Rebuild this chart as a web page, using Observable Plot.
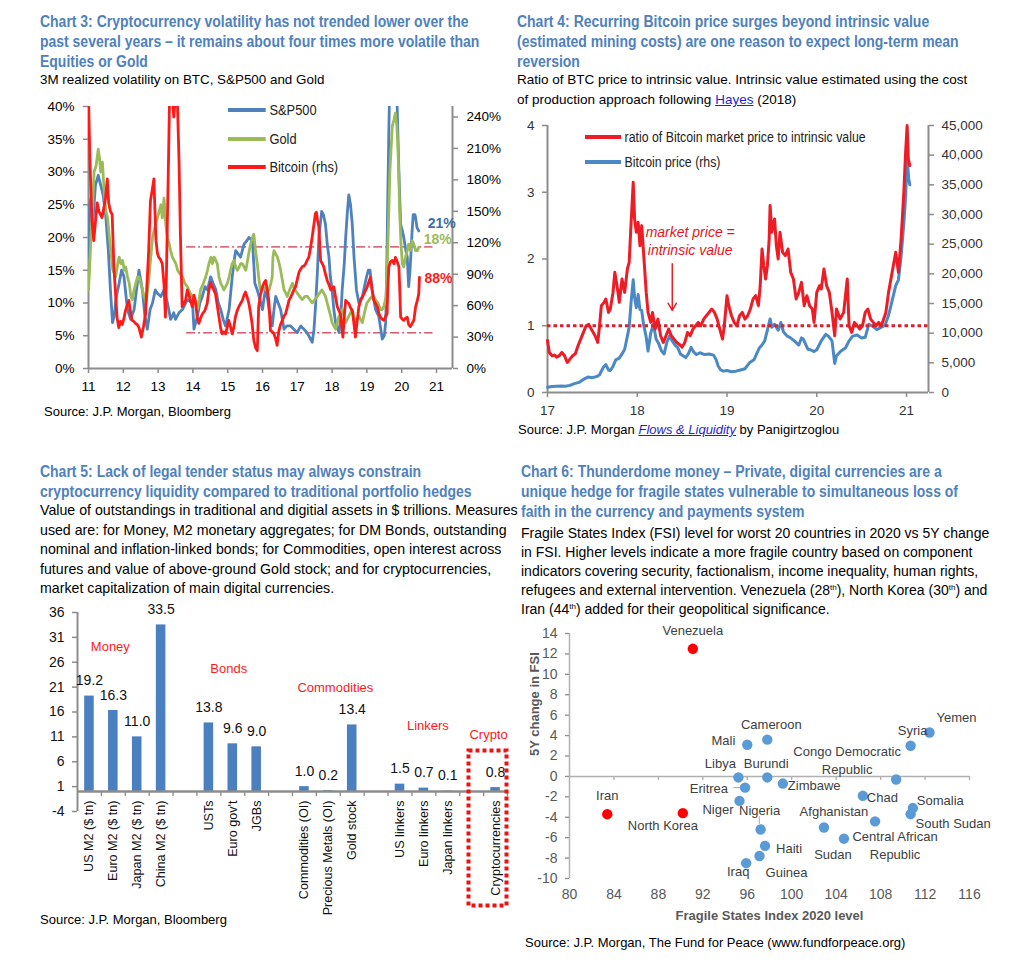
<!DOCTYPE html>
<html><head><meta charset="utf-8">
<script src="https://cdn.jsdelivr.net/npm/d3@7"></script>
<script src="https://cdn.jsdelivr.net/npm/@observablehq/plot@0.6"></script>
<style>
body{margin:0;background:#fff;}
#page{position:relative;width:1023px;height:966px;overflow:hidden;font-family:"Liberation Sans",Arial,sans-serif;background:#fff;}
.abs{position:absolute;white-space:nowrap;}
.title{font-family:"Liberation Sans",Arial,sans-serif;font-weight:bold;font-size:16px;color:#4f81bd;line-height:20px;transform:scaleX(0.873);transform-origin:0 0;}
.sub{font-family:"Liberation Sans",Arial,sans-serif;font-size:14px;color:#000;line-height:19.4px;}
.sup{font-size:8px;position:relative;top:-5px;line-height:0;}
.src{font-family:"Liberation Sans",Arial,sans-serif;font-size:13px;color:#000;line-height:16px;}
.leg{font-family:"Liberation Sans",Arial,sans-serif;font-size:14px;color:#222;line-height:16px;transform-origin:0 50%;}
.leg i{display:inline-block;width:41px;height:4px;vertical-align:middle;margin-right:4px;position:relative;top:-1px;}
a{color:#1f1fcf;}
</style></head><body><div id="page"></div>
<script>
// ---------------- DATA ----------------
// Chart 3: 3M realized volatility (%), x = year (11 = 2011)
const spx = [[11.00,17],[11.03,25],[11.07,26],[11.12,22],[11.2,28],[11.28,29.5],[11.35,28],[11.42,26.5],[11.5,23],[11.57,18],[11.63,12],[11.69,7],[11.74,8],[11.8,11],[11.88,13],[11.95,15],[12.02,14],[12.12,9],[12.21,7.5],[12.31,9],[12.38,12],[12.45,15],[12.55,12],[12.62,8],[12.69,6],[12.77,9],[12.84,10],[12.92,12],[12.98,11.5],[13.08,11],[13.17,12],[13.27,10],[13.36,7.5],[13.45,8.5],[13.5,7.5],[13.6,8.5],[13.7,9],[13.84,10.5],[13.99,10],[14.03,6],[14.13,8],[14.2,10],[14.27,11],[14.35,12.5],[14.42,12],[14.51,14],[14.58,13],[14.66,12],[14.73,10],[14.8,9],[14.87,7.5],[14.94,6.5],[15.04,9],[15.13,14],[15.2,17],[15.23,18],[15.3,17.5],[15.37,17],[15.47,19],[15.55,19.5],[15.61,20],[15.71,19.5],[15.75,16],[15.78,13],[15.85,12],[15.9,11],[16.0,9],[16.05,11],[16.09,12],[16.15,10.5],[16.19,9],[16.28,6.5],[16.33,9],[16.38,11],[16.45,10],[16.52,9],[16.62,6],[16.7,6.5],[16.81,6.5],[16.9,6],[17.0,5.5],[17.1,6.5],[17.19,6],[17.27,5.5],[17.33,5],[17.43,4],[17.48,6],[17.53,10],[17.58,15],[17.62,20],[17.7,24],[17.75,23.5],[17.81,22],[17.86,19],[17.91,17],[17.95,14],[18.0,12],[18.05,9],[18.1,7],[18.2,5.5],[18.25,8],[18.29,12],[18.35,16],[18.39,20],[18.44,24],[18.48,26.5],[18.53,25],[18.58,22],[18.63,17],[18.7,12],[18.77,10],[18.87,11],[18.93,12.5],[18.99,14],[19.04,15],[19.09,15],[19.15,12],[19.25,9],[19.34,8],[19.4,6],[19.44,4.5],[19.5,5],[19.54,7],[19.57,15],[19.6,26],[19.63,36],[19.66,45],[19.72,52],[19.77,50],[19.83,44],[19.87,40],[19.92,30],[19.97,22],[20.02,21],[20.06,20],[20.12,18],[20.16,17],[20.2,12.5],[20.24,15],[20.27,18],[20.3,21],[20.33,23.5],[20.38,23.5],[20.4,23],[20.44,21.5],[20.49,21]];
const gold = [[11.0,12],[11.03,15],[11.07,20],[11.12,25],[11.16,30],[11.22,31],[11.28,33.5],[11.32,32],[11.35,30],[11.4,31.5],[11.45,27],[11.5,24],[11.55,23],[11.6,20],[11.64,18],[11.7,15],[11.78,14],[11.84,16],[11.88,17],[11.93,16],[11.98,16.5],[12.03,15],[12.07,15.5],[12.12,14],[12.17,13],[12.22,11],[12.26,10.5],[12.31,12],[12.36,13],[12.41,14],[12.45,14],[12.5,13],[12.55,12],[12.6,11],[12.65,10],[12.7,12],[12.74,14],[12.79,17],[12.84,20],[12.88,21],[12.93,22],[12.98,23],[13.03,24],[13.08,25],[13.12,23],[13.17,26],[13.22,22],[13.27,20],[13.32,19],[13.36,18],[13.41,17],[13.46,16.5],[13.51,16],[13.56,15],[13.62,14.5],[13.7,14],[13.77,13],[13.84,12.5],[13.92,11.5],[13.99,11],[14.06,10],[14.13,9],[14.18,10.5],[14.22,12],[14.3,13],[14.37,14],[14.42,15],[14.46,16],[14.52,17],[14.56,16],[14.61,17],[14.66,16.5],[14.7,16],[14.75,14],[14.8,13],[14.85,12.5],[14.89,12],[14.94,12.5],[14.99,13],[15.04,14],[15.08,15],[15.13,16],[15.18,16.5],[15.23,15.5],[15.28,15],[15.33,15.5],[15.37,16],[15.42,16],[15.47,15.5],[15.52,15],[15.57,16.5],[15.62,18],[15.66,19],[15.71,20],[15.75,20.5],[15.8,18],[15.85,16],[15.9,13.5],[15.94,12],[16.0,12],[16.04,12.5],[16.1,12],[16.19,12],[16.24,13],[16.28,14],[16.3,17],[16.33,18],[16.38,17.5],[16.43,17],[16.48,16],[16.52,15],[16.57,13.5],[16.62,12],[16.67,11.5],[16.71,11],[16.78,12],[16.86,13],[16.93,12],[17.0,11.5],[17.07,11],[17.14,10.5],[17.22,11],[17.29,11],[17.36,10.5],[17.43,10],[17.5,10.5],[17.57,11],[17.64,11.5],[17.71,12],[17.76,11.5],[17.81,11],[17.86,10],[17.91,9],[17.96,8],[18.0,7],[18.05,6.5],[18.1,6],[18.15,7],[18.2,8],[18.25,8.5],[18.29,9],[18.34,8],[18.39,7],[18.44,7.5],[18.48,8],[18.53,8.5],[18.58,9],[18.63,8],[18.68,7],[18.72,7.5],[18.77,8],[18.82,7.5],[18.87,7],[18.93,8.5],[19.0,10],[19.07,10.5],[19.15,11],[19.2,11],[19.25,10.5],[19.32,10],[19.39,9],[19.44,9],[19.49,9.5],[19.55,11],[19.58,15],[19.62,22],[19.66,30],[19.7,34],[19.73,37],[19.78,38],[19.82,39],[19.86,37],[19.89,34],[19.92,29],[19.94,24],[19.98,19],[20.02,16],[20.06,15.5],[20.11,17],[20.16,18],[20.2,19],[20.25,18],[20.3,19.5],[20.35,19],[20.4,18],[20.45,18],[20.49,18.5]];
const bitcoinVol = [[11.0,260],[11.04,200],[11.1,140],[11.15,122],[11.2,140],[11.25,158],[11.3,150],[11.39,144],[11.45,155],[11.49,163],[11.54,181],[11.58,158],[11.63,150],[11.68,147],[11.73,97],[11.78,70],[11.82,49],[11.87,39],[11.92,45],[11.97,42],[12.02,48],[12.06,55],[12.11,60],[12.16,65],[12.2,55],[12.25,46],[12.3,45],[12.35,43],[12.4,42],[12.45,39],[12.52,30],[12.58,40],[12.64,52],[12.68,80],[12.73,113],[12.78,160],[12.83,170],[12.88,181],[12.91,150],[12.94,122],[12.98,110],[13.02,106],[13.07,104],[13.12,100],[13.17,80],[13.21,49],[13.24,90],[13.26,129],[13.3,200],[13.33,260],[13.36,260],[13.4,260],[13.45,240],[13.5,260],[13.55,260],[13.6,200],[13.64,129],[13.69,59],[13.74,62],[13.79,65],[13.84,75],[13.88,71],[13.93,65],[13.98,59],[14.03,70],[14.07,65],[14.12,50],[14.17,43],[14.22,48],[14.27,52],[14.34,55],[14.41,62],[14.46,75],[14.51,82],[14.55,78],[14.6,75],[14.65,71],[14.7,60],[14.75,49],[14.8,38],[14.84,33],[14.89,35],[14.94,33],[14.99,40],[15.03,46],[15.08,40],[15.13,33],[15.18,40],[15.22,49],[15.27,55],[15.32,59],[15.37,62],[15.42,65],[15.47,70],[15.51,73],[15.56,68],[15.61,62],[15.66,52],[15.7,43],[15.75,27],[15.8,20],[15.85,17],[15.89,59],[15.94,70],[16.0,78],[16.05,82],[16.09,84],[16.14,75],[16.18,65],[16.23,36],[16.28,35],[16.33,33],[16.38,28],[16.42,22],[16.47,36],[16.52,42],[16.57,46],[16.62,50],[16.66,52],[16.71,58],[16.76,65],[16.81,68],[16.85,71],[16.9,75],[16.95,78],[17.0,85],[17.05,92],[17.1,95],[17.14,97],[17.2,98],[17.24,100],[17.28,103],[17.33,106],[17.38,115],[17.43,126],[17.48,138],[17.52,148],[17.55,149],[17.58,142],[17.62,135],[17.65,115],[17.67,103],[17.72,100],[17.76,97],[17.81,90],[17.86,84],[17.91,80],[17.96,75],[18.0,76],[18.05,78],[18.1,68],[18.15,59],[18.2,55],[18.24,52],[18.28,40],[18.31,30],[18.35,50],[18.39,65],[18.44,63],[18.48,62],[18.53,58],[18.58,55],[18.62,45],[18.67,30],[18.72,45],[18.77,59],[18.82,65],[18.87,68],[18.94,73],[19.01,78],[19.05,82],[19.1,87],[19.15,75],[19.2,65],[19.25,62],[19.3,59],[19.35,52],[19.39,49],[19.44,47],[19.49,46],[19.54,50],[19.58,52],[19.6,75],[19.63,97],[19.68,102],[19.73,103],[19.78,100],[19.82,106],[19.87,102],[19.92,97],[19.95,70],[19.97,49],[20.02,47],[20.06,46],[20.11,48],[20.16,49],[20.2,42],[20.25,40],[20.3,43],[20.35,46],[20.4,59],[20.45,65],[20.49,71],[20.51,87]];
const c3LeftTicks = [0,5,10,15,20,25,30,35,40];
const c3RightTicks = [0,30,60,90,120,150,180,210,240];
const c3Years = [11,12,13,14,15,16,17,18,19,20,21];
const btcBand = [116, 34];          // rhs %, dash-dot reference lines
const btcBandSpan = [13.82, 20.9];
const c3EndLabels = ["21%", "18%", "88%"];

// Chart 4: ratio and BTC price, x = year (17 = 2017)
const btcRatio = [[17.0,0.78],[17.02,0.6],[17.05,0.55],[17.08,0.56],[17.1,0.53],[17.13,0.55],[17.16,0.6],[17.19,0.55],[17.22,0.45],[17.25,0.5],[17.28,0.55],[17.31,0.58],[17.34,0.7],[17.37,0.8],[17.4,0.9],[17.43,1.0],[17.46,1.02],[17.5,0.92],[17.53,0.85],[17.56,0.75],[17.58,1.0],[17.6,1.3],[17.63,1.35],[17.65,1.4],[17.68,1.2],[17.7,1.25],[17.73,1.5],[17.75,1.8],[17.78,1.55],[17.8,1.35],[17.83,1.7],[17.86,1.5],[17.89,1.85],[17.91,1.95],[17.93,2.5],[17.955,3.15],[17.97,2.6],[17.99,2.4],[18.01,2.55],[18.03,2.2],[18.05,2.5],[18.07,2.1],[18.1,1.5],[18.12,1.2],[18.15,1.05],[18.17,1.2],[18.2,0.95],[18.23,1.1],[18.26,0.85],[18.29,0.75],[18.32,0.85],[18.35,0.95],[18.38,0.85],[18.41,0.8],[18.44,0.75],[18.47,0.72],[18.5,0.68],[18.53,0.75],[18.56,0.9],[18.59,0.85],[18.62,0.95],[18.65,1.0],[18.68,1.05],[18.71,1.0],[18.74,1.1],[18.77,1.15],[18.8,1.2],[18.83,1.25],[18.86,1.2],[18.89,1.1],[18.92,0.95],[18.95,0.8],[18.97,1.0],[19.0,1.45],[19.02,1.3],[19.05,1.15],[19.08,1.05],[19.11,1.0],[19.14,1.15],[19.17,1.2],[19.2,1.1],[19.23,1.15],[19.26,1.25],[19.29,1.4],[19.32,1.45],[19.35,1.3],[19.37,1.6],[19.39,2.15],[19.41,1.9],[19.43,1.7],[19.45,1.9],[19.47,2.3],[19.48,2.8],[19.5,2.4],[19.53,2.6],[19.55,2.2],[19.57,2.0],[19.59,2.4],[19.62,2.1],[19.65,2.05],[19.68,2.15],[19.71,1.8],[19.74,1.7],[19.77,1.4],[19.8,1.5],[19.83,1.65],[19.86,1.3],[19.89,1.45],[19.92,1.3],[19.95,1.25],[19.97,1.05],[20.0,1.5],[20.03,1.6],[20.05,1.55],[20.08,1.85],[20.11,1.6],[20.14,1.5],[20.17,1.2],[20.2,0.85],[20.22,1.25],[20.26,1.1],[20.3,1.2],[20.34,1.7],[20.36,1.0],[20.39,0.9],[20.42,1.05],[20.45,1.0],[20.48,0.95],[20.51,1.0],[20.54,1.2],[20.57,1.25],[20.6,1.1],[20.63,1.05],[20.66,1.0],[20.69,1.05],[20.72,1.0],[20.77,1.2],[20.8,1.5],[20.84,1.8],[20.88,2.1],[20.91,1.8],[20.94,2.3],[20.97,3.0],[20.99,3.6],[21.007,4.0],[21.02,3.5],[21.037,3.4]];
const btcPrice = [[17.0,900],[17.05,1000],[17.1,1050],[17.15,1100],[17.2,1050],[17.25,1200],[17.3,1500],[17.35,1700],[17.4,2200],[17.45,2600],[17.5,2500],[17.55,2700],[17.58,3000],[17.62,4200],[17.65,4700],[17.68,3800],[17.7,3700],[17.73,4400],[17.76,5500],[17.8,5800],[17.83,6500],[17.86,7300],[17.89,9500],[17.91,11000],[17.93,15000],[17.955,19000],[17.97,16000],[17.99,14300],[18.01,16500],[18.03,14000],[18.05,13800],[18.07,11500],[18.1,9300],[18.12,7000],[18.15,10000],[18.18,11500],[18.21,9000],[18.24,8200],[18.27,7000],[18.3,6500],[18.33,8500],[18.36,9500],[18.39,8700],[18.42,8000],[18.45,7600],[18.48,6500],[18.51,6200],[18.54,5900],[18.57,6500],[18.6,7600],[18.63,6800],[18.66,6400],[18.7,6700],[18.75,6400],[18.8,6500],[18.85,6300],[18.88,5500],[18.9,4500],[18.93,3800],[18.96,3600],[19.0,3700],[19.05,3500],[19.1,3600],[19.15,3800],[19.2,4000],[19.25,5000],[19.3,5500],[19.33,6500],[19.36,7500],[19.39,8000],[19.42,8700],[19.45,10500],[19.48,12400],[19.5,11000],[19.53,11500],[19.57,10500],[19.6,11800],[19.63,10200],[19.67,9500],[19.7,9300],[19.75,8700],[19.8,8000],[19.83,9200],[19.85,9000],[19.9,7300],[19.93,7200],[19.97,6900],[20.0,7200],[20.05,8700],[20.1,9800],[20.13,9500],[20.17,8700],[20.2,4900],[20.22,6200],[20.27,7000],[20.32,7500],[20.36,8700],[20.4,9500],[20.45,9700],[20.5,9200],[20.54,9300],[20.58,11500],[20.62,11200],[20.67,10600],[20.72,11000],[20.76,11300],[20.8,13000],[20.84,15500],[20.88,18000],[20.91,19000],[20.94,23000],[20.97,28500],[20.99,33000],[21.007,39500],[21.025,36000],[21.037,35000]];
const c4Years = [17,18,19,20,21];
const c4LeftTicks = [0,1,2,3,4];
const c4RightTicks = [0,5000,10000,15000,20000,25000,30000,35000,40000,45000];
const c4Note = [{text: "market price =\nintrinsic value", x: 18.59, y: 2.28}];
const c4Arrow = [{x: 18.39, from: 1.93, to: 1.23}];

// Chart 5: outstandings, $ trillions
const assetNames = ["US M2 ($ tn)","Euro M2 ($ tn)","Japan M2 ($ tn)","China M2 ($ tn)","USTs","Euro gov't","JGBs","Commodities (OI)","Precious Metals (OI)","Gold stock","US linkers","Euro linkers","Japan linkers","Cryptocurrencies"];
const assetValues = [19.2,16.3,11.0,33.5,13.8,9.6,9.0,1.0,0.2,13.4,1.5,0.7,0.1,0.8];
const slotOrder = ["US M2 ($ tn)","Euro M2 ($ tn)","Japan M2 ($ tn)","China M2 ($ tn)","gap1","USTs","Euro gov't","JGBs","gap2","Commodities (OI)","Precious Metals (OI)","Gold stock","gap3","US linkers","Euro linkers","Japan linkers","gap4","Cryptocurrencies"];
const c5Ticks = [-4,1,6,11,16,21,26,31,36];
const groupLabels = [
  {label: "Money", at: "Euro M2 ($ tn)", y: 29, dx: -3},
  {label: "Bonds", at: "Euro gov't", y: 24.7, dx: -4},
  {label: "Commodities", at: "Precious Metals (OI)", y: 20.9, dx: 7},
  {label: "Linkers", at: "Euro linkers", y: 13.3, dx: 4},
  {label: "Crypto", at: "Cryptocurrencies", y: 11.5, dx: -7}
];

// Chart 6: FSI 2020 level vs 5Y change
const countryNames = ["Venezuela","Iran","North Korea","Mali","Cameroon","Libya","Burundi","Eritrea","Zimbawe","Niger","Nigeria","Haiti","Guinea","Iraq","Afghanistan","Sudan","Chad","Central African Republic","Congo Democratic Republic","Syria","Yemen","Somalia","South Sudan"];
const fsiLevel  = [91.1,83.4,90.2,96.0,97.8,95.2,97.8,95.8,99.2,95.3,97.2,97.6,97.1,95.9,102.9,104.7,106.4,107.5,109.4,110.7,112.4,110.9,110.7];
const fsiChange = [12.5,-3.7,-3.6,3.1,3.6,-0.1,-0.1,-1.1,-0.7,-2.4,-5.2,-6.8,-7.8,-8.5,-5.0,-6.1,-1.9,-4.4,-0.3,3.0,4.3,-3.1,-3.7];
const highlighted = ["Venezuela","North Korea","Iran"];
const c6XTicks = [80,84,88,92,96,100,104,108,112,116];
const c6YTicks = [-10,-8,-6,-4,-2,0,2,4,6,8,10,12,14];

// ---------------- LAYOUT / STYLE ----------------
const ARIAL = '"Liberation Sans",Arial,sans-serif';
const BLUE = "#4f81bd", GREEN = "#9bbb59", RED = "#ff1a1a", AXIS = "#8c8c8c";
const page = document.getElementById("page");
function place(el, left, top){ el.style.position = "absolute"; el.style.left = left + "px"; el.style.top = top + "px"; page.appendChild(el); return el; }
function html(left, top, cls, inner, extra){ const d = document.createElement("div"); d.className = "abs " + cls; d.innerHTML = inner; if (extra) d.style.cssText = extra; return place(d, left, top); }
const th = '<span class="sup">th</span>';

// Titles & subtitles
html(40, 12, "title", "Chart 3: Cryptocurrency volatility has not trended lower over the<br>past several years – it remains about four times more volatile than<br>Equities or Gold");
html(40, 70, "sub", "3M realized volatility on BTC, S&amp;P500 and Gold", "font-size:13.4px");
html(517, 12, "title", "Chart 4: Recurring Bitcoin price surges beyond intrinsic value<br>(estimated mining costs) are one reason to expect long-term mean<br>reversion");
html(517, 70, "sub", "Ratio of BTC price to intrinsic value. Intrinsic value estimated using the cost<br>of production approach following <a href='#'>Hayes</a> (2018)", "font-size:13.5px;line-height:20px");
html(40, 462, "title", "Chart 5: Lack of legal tender status may always constrain<br>cryptocurrency liquidity compared to traditional portfolio hedges");
html(40, 501, "sub", "Value of outstandings in traditional and digitial assets in $ trillions. Measures<br>used are: for Money, M2 monetary aggregates; for DM Bonds, outstanding<br>nominal and inflation-linked bonds; for Commodities, open interest across<br>futures and value of above-ground Gold stock; and for cryptocurrencies,<br>market capitalization of main digital currencies.", "font-size:14.2px;line-height:19.6px");
html(521, 462, "title", "Chart 6: Thunderdome money – Private, digital currencies are a<br>unique hedge for fragile states vulnerable to simultaneous loss of<br>faith in the currency and payments system");
html(521, 524, "sub", `Fragile States Index (FSI) level for worst 20 countries in 2020 vs 5Y change<br>in FSI. Higher levels indicate a more fragile country based on component<br>indicators covering security, factionalism, income inequality, human rights,<br>refugees and external intervention. Venezuela (28${th}), North Korea (30${th}) and<br>Iran (44${th}) added for their geopolitical significance.`, "font-size:14px;line-height:18.9px");

// ---------------- CHART 3 ----------------
const K3 = 40 / 250; // rhs -> lhs
const xMax3 = 21.46;
const c3 = Plot.plot({
  width: 505, height: 320, marginLeft: 88, marginRight: 53, marginTop: 16, marginBottom: 42,
  style: {fontFamily: ARIAL, fontSize: "13.5px", color: "#000", background: "transparent", overflow: "visible"},
  x: {domain: [11, xMax3]},
  y: {domain: [0, 40]},
  marks: [
    Plot.axisY({ticks: c3LeftTicks, tickFormat: d => d + "%", tickSize: 5, tickPadding: 9, stroke: AXIS, strokeWidth: 1.5, fill: "#000", label: null}),
    Plot.axisY({anchor: "right", ticks: c3RightTicks.map(v => v * K3), tickFormat: d => Math.round(d / K3) + "%", tickSize: 5, tickPadding: 9, stroke: AXIS, strokeWidth: 1.5, fill: "#000", label: null}),
    Plot.axisX({ticks: c3Years, tickFormat: d => String(d), tickSize: 5, tickPadding: 8, stroke: AXIS, strokeWidth: 1.5, fill: "#000", label: null}),
    Plot.ruleX([11, xMax3], {stroke: AXIS, strokeWidth: 2}),
    Plot.ruleY([0], {stroke: AXIS, strokeWidth: 2}),
    Plot.ruleY(btcBand, {y: d => d * K3, x1: btcBandSpan[0], x2: btcBandSpan[1], stroke: "#c00020", strokeWidth: 1, strokeDasharray: "9,3,2,3"}),
    Plot.line(spx, {x: d => d[0], y: d => d[1], stroke: BLUE, strokeWidth: 2.8, clip: true}),
    Plot.line(gold, {x: d => d[0], y: d => d[1], stroke: GREEN, strokeWidth: 2.8, clip: true}),
    Plot.line(bitcoinVol, {x: d => d[0], y: d => d[1] * K3, stroke: RED, strokeWidth: 2.8, clip: true}),
    Plot.text([spx[spx.length - 1]], {x: d => d[0], y: d => d[1], text: () => c3EndLabels[0], textAnchor: "start", dx: 9, dy: -7, fill: "#3b6eaa", fontWeight: "bold", fontSize: 14}),
    Plot.text([gold[gold.length - 1]], {x: d => d[0], y: d => d[1], text: () => c3EndLabels[1], textAnchor: "start", dx: 5, dy: -8, fill: GREEN, fontWeight: "bold", fontSize: 14}),
    Plot.text([bitcoinVol[bitcoinVol.length - 1]], {x: d => d[0], y: d => d[1] * K3, text: () => c3EndLabels[2], textAnchor: "start", dx: 5, dy: 1, fill: RED, fontWeight: "bold", fontSize: 14})
  ]
});
place(c3, 0, 90);
const legScale3 = "transform:scaleX(0.92)";
html(228, 102, "leg", `<i style="background:${BLUE}"></i>S&amp;P500`, legScale3);
html(228, 131, "leg", `<i style="background:${GREEN}"></i>Gold`, legScale3);
html(228, 159, "leg", `<i style="background:${RED}"></i>Bitcoin (rhs)`, legScale3);
html(44, 404, "src", "Source: J.P. Morgan, Bloomberg");

// ---------------- CHART 4 ----------------
const K4 = 4 / 45000;
const xMax4 = 21.245;
const c4 = Plot.plot({
  width: 518, height: 330, marginLeft: 42, marginRight: 95, marginTop: 15, marginBottom: 48,
  style: {fontFamily: ARIAL, fontSize: "13.5px", color: "#000", background: "transparent", overflow: "visible"},
  x: {domain: [17, xMax4]},
  y: {domain: [0, 4]},
  marks: [
    Plot.axisY({ticks: c4LeftTicks, tickFormat: d => String(d), tickSize: 5, tickPadding: 8, stroke: AXIS, strokeWidth: 1.5, fill: "#333", label: null}),
    Plot.axisY({anchor: "right", ticks: c4RightTicks.map(v => v * K4), tickFormat: d => d3.format(",")(Math.round(d / K4)), tickSize: 5, tickPadding: 8, stroke: AXIS, strokeWidth: 1.5, fill: "#333", label: null}),
    Plot.axisX({ticks: c4Years, tickFormat: d => String(d), tickSize: 5, tickPadding: 8, stroke: AXIS, strokeWidth: 1.5, fill: "#333", label: null}),
    Plot.ruleX([17, xMax4], {stroke: AXIS, strokeWidth: 2}),
    Plot.ruleY([0], {stroke: AXIS, strokeWidth: 2}),
    Plot.line(btcPrice, {x: d => d[0], y: d => d[1] * K4, stroke: "#4a88c6", strokeWidth: 3}),
    Plot.line(btcRatio, {x: d => d[0], y: d => d[1], stroke: "#ee1c25", strokeWidth: 3}),
    Plot.ruleY([1], {stroke: "#d9212b", strokeWidth: 3.2, strokeDasharray: "3.5,3"}),
    Plot.text(c4Note, {x: "x", y: "y", text: "text", fill: "#e8141b", fontStyle: "italic", lineHeight: 1.3, fontSize: 14}),
    Plot.arrow(c4Arrow, {x1: "x", x2: "x", y1: "from", y2: "to", stroke: "#e8141b", strokeWidth: 1.4, headLength: 9, bend: 0})
  ]
});
place(c4, 505, 110);
const legScale4 = "transform:scaleX(0.88)";
html(585, 129, "leg", `<i style="background:#ee1c25"></i>ratio of Bitcoin market price to intrinsic value`, legScale4);
html(585, 154, "leg", `<i style="background:#4a88c6"></i>Bitcoin price (rhs)`, legScale4);
html(518, 422, "src", "Source: J.P. Morgan <a href='#'><i>Flows &amp; Liquidity</i></a> by Panigirtzoglou");

// ---------------- CHART 5 ----------------
const assets = assetNames.map((name, i) => ({name, value: assetValues[i]}));
const w5 = 510, ml5 = 77, mr5 = 3;
const step5 = (w5 - ml5 - mr5) / slotOrder.length;
const inset5 = step5 * 0.3;
const c5 = Plot.plot({
  width: w5, height: 330, marginLeft: ml5, marginRight: mr5, marginTop: 12, marginBottom: 119,
  style: {fontFamily: ARIAL, fontSize: "13.5px", color: "#000", background: "transparent", overflow: "visible"},
  x: {type: "band", domain: slotOrder, padding: 0, align: 0.5, round: false},
  y: {domain: [-4, 36]},
  marks: [
    Plot.axisY({ticks: c5Ticks, tickFormat: d => String(d), tickSize: 5, tickPadding: 8, stroke: AXIS, strokeWidth: 1.5, fill: "#111", label: null, fontSize: 14}),
    Plot.ruleX([slotOrder[0]], {y1: -4, y2: 36, dx: -step5 / 2, stroke: AXIS, strokeWidth: 2}),
    Plot.barY(assets, {x: "name", y: "value", fill: "#4a7fc0", insetLeft: inset5, insetRight: inset5}),
    Plot.ruleY([0], {stroke: AXIS, strokeWidth: 2.5}),
    Plot.ruleX(slotOrder, {x: d => d, y1: 0, y2: -1, dx: step5 / 2, stroke: AXIS, strokeWidth: 1.3}),
    Plot.text(assets, {x: "name", y: "value", text: d => d.value.toFixed(1), dy: -11, lineAnchor: "bottom", fill: "#111", fontSize: 14}),
    Plot.axisX({ticks: assetNames, tickRotate: -90, tickSize: 0, tickPadding: 0, dy: -11, fill: "#111", label: null, fontSize: 12.6}),
    ...groupLabels.map(g => Plot.text([g], {x: "at", y: "y", text: "label", dx: g.dx, fill: RED, fontSize: 13}))
  ]
});
place(c5, 0, 600);
html(40, 912, "src", "Source: J.P. Morgan, Bloomberg");
// dotted highlight box around the crypto bar
const box = document.createElementNS("http://www.w3.org/2000/svg", "svg");
box.setAttribute("width", 46); box.setAttribute("height", 162);
box.innerHTML = '<rect x="2.5" y="2.5" width="38" height="155" fill="none" stroke="#ee1111" stroke-width="4" stroke-dasharray="4,3"/>';
place(box, 466, 748);

// ---------------- CHART 6 ----------------
const countries = countryNames.map((name, i) => ({name, fsi: fsiLevel[i], chg: fsiChange[i], hi: highlighted.includes(name)}));
const labelLayout = {
  "Venezuela": ["middle", 0, -19], "Iran": ["middle", 0, -20], "North Korea": ["middle", -20, 11],
  "Mali": ["end", -12, -5], "Cameroon": ["middle", 4, -16], "Libya": ["middle", -18, -15],
  "Burundi": ["middle", -1, -15], "Eritrea": ["end", -17, 0], "Zimbawe": ["start", 5, 1],
  "Niger": ["end", -6, 7], "Nigeria": ["middle", -1, -20], "Haiti": ["start", 11, 2],
  "Guinea": ["middle", 27, 15], "Iraq": ["middle", -8, 7], "Afghanistan": ["middle", 10, -17],
  "Sudan": ["middle", -11, 15], "Chad": ["start", 4, 1], "Central African Republic": ["middle", 20, 23],
  "Congo Democratic Republic": ["middle", -49, -20], "Syria": ["middle", 2, -16], "Yemen": ["middle", 27, -16],
  "Somalia": ["start", 4, -9], "South Sudan": ["start", 5, 8]
};
const labelText = {"Central African Republic": "Central African\nRepublic", "Congo Democratic Republic": "Congo Democratic\nRepublic"};
const leaders = [
  {name: "Eritrea", x1: -1.05, x2: -0.3, y1: 0, y2: 0},
  {name: "Nigeria", x1: -0.12, x2: -0.12, y1: 1.3, y2: 0.55}
];
const byName = n => countries.find(c => c.name === n);
const c6 = Plot.plot({
  width: 513, height: 320, marginLeft: 59, marginRight: 54, marginTop: 18, marginBottom: 57,
  style: {fontFamily: ARIAL, fontSize: "13px", color: "#333", background: "transparent", overflow: "visible"},
  x: {domain: [80, 116]},
  y: {domain: [-10, 14]},
  marks: [
    Plot.axisY({ticks: c6YTicks, tickFormat: d => String(d), tickSize: 4, tickPadding: 8, stroke: AXIS, strokeWidth: 1.3, fill: "#595959", fontSize: 14, label: null}),
    Plot.axisX({ticks: c6XTicks, tickFormat: d => String(d), tickSize: 0, tickPadding: 11, fill: "#595959", fontSize: 14, label: null}),
    Plot.ruleX([80], {y1: -10, y2: 14, stroke: "#b0b0b0", strokeWidth: 1.5}),
    Plot.ruleY([0], {x1: 80, x2: 116, stroke: "#b0b0b0", strokeWidth: 1.5}),
    Plot.ruleX(c6XTicks.slice(1), {x: d => d, y1: 0, y2: -0.4, stroke: "#b0b0b0", strokeWidth: 1.3}),
    Plot.link(leaders, {x1: d => byName(d.name).fsi + d.x1, x2: d => byName(d.name).fsi + d.x2,
      y1: d => byName(d.name).chg + d.y1, y2: d => byName(d.name).chg + d.y2, stroke: "#a6a6a6", strokeWidth: 1}),
    Plot.dot(countries, {x: "fsi", y: "chg", r: 5.2, fill: d => d.hi ? "#ff0000" : "#5b9bd5", stroke: "none"}),
    ...countries.map(c => {
      const [anchor, dx, dy] = labelLayout[c.name];
      return Plot.text([c], {x: "fsi", y: "chg", text: d => labelText[d.name] || d.name, textAnchor: anchor, dx, dy, lineHeight: 1.35, fill: "#404040"});
    }),
    Plot.text(["Fragile States Index 2020 level"], {frameAnchor: "bottom", dy: 41, text: d => d, fontWeight: "bold", fill: "#595959", fontSize: 13}),
    Plot.text(["5Y change in FSI"], {frameAnchor: "left", dx: -35, rotate: -90, text: d => d, fontWeight: "bold", fill: "#595959", fontSize: 13})
  ]
});
place(c6, 510, 615);
html(525, 935, "src", "Source: J.P. Morgan, The Fund for Peace (www.fundforpeace.org)");
</script></body></html>
